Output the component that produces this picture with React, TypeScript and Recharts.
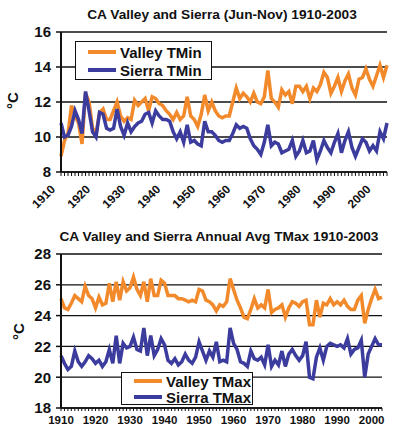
import { CartesianGrid, Legend, Line, LineChart, XAxis, YAxis } from "recharts";

const FONT = "'Liberation Sans', Arial, sans-serif";
const ORANGE = "#f28a2c";
const BLUE = "#3c3c9e";
const INK = "#111";

const years = Array.from({ length: 94 }, (_, i) => 1910 + i);

// Jun-Nov minimum temperatures, 1910-2003
const valleyTMin = [
  8.9, 9.8, 10.2, 11.8, 11.2, 10.8, 9.6, 12.5, 12.0, 10.5,
  10.2, 11.4, 11.6, 11.0, 11.0, 11.5, 12.0, 11.2, 10.9, 11.1,
  11.0, 12.1, 11.8, 12.0, 12.2, 11.5, 12.3, 12.2, 11.9, 11.8,
  11.5, 11.3, 11.0, 11.4, 11.0, 11.2, 12.3, 11.2, 11.0, 10.6,
  11.3, 12.4, 11.5, 12.0, 11.5, 11.2, 11.1, 11.2, 11.2, 12.0,
  12.8, 12.2, 12.5, 12.3, 12.0, 12.5, 12.0, 11.9, 12.3, 13.8,
  12.2, 12.0, 11.7, 12.7, 12.4, 12.6, 11.9, 12.9, 12.9, 12.6,
  12.9, 12.2, 12.8, 12.6, 13.0, 13.7, 13.4, 12.5, 12.9, 13.4,
  12.6, 13.2, 13.6, 12.8, 12.4, 13.3, 13.4, 13.9, 13.3, 12.9,
  13.5, 14.1, 13.4, 14.1,
];
const sierraTMin = [
  10.8, 10.0, 10.1, 10.6, 11.5, 11.0, 10.2, 12.6, 11.5, 10.3,
  10.0, 11.4, 11.3, 10.5, 10.4, 10.5, 11.6, 10.6, 10.1, 10.8,
  10.3, 10.6, 10.8, 10.9, 11.3, 11.4, 10.8, 11.5, 11.2, 11.0,
  11.0, 10.9, 10.3, 9.9, 10.3, 9.7, 10.7, 9.7, 9.8, 9.6,
  9.5, 10.9, 10.3, 10.3, 10.1, 9.8, 9.7, 9.8, 9.8, 10.2,
  10.7, 10.5, 10.6, 10.5, 9.9, 9.5, 9.3, 9.0, 9.7, 10.7,
  9.5, 9.7, 9.6, 9.1, 9.2, 9.3, 9.8, 8.9, 9.2, 9.8,
  9.1, 9.2, 9.8, 8.7, 9.2, 9.8, 9.4, 9.1, 9.7, 10.2,
  9.1, 9.8, 10.3, 9.4, 8.9, 9.4, 9.9, 9.7, 9.2, 9.5,
  9.2, 10.3, 9.9, 10.8,
];

// annual average maximum temperatures, 1910-2003
const valleyTMax = [
  25.1, 24.5, 24.4, 24.8, 25.3, 25.1, 24.9, 25.9, 25.3, 25.1,
  24.5, 25.2, 24.7, 24.8, 26.1, 24.9, 26.2, 25.0, 26.2, 25.6,
  25.8, 26.5, 25.7, 25.3, 26.2, 24.9, 26.4, 25.3, 25.3, 26.3,
  26.1, 25.3, 25.3, 25.3, 25.1, 25.1, 25.0, 24.9, 25.0, 24.9,
  25.7, 25.6, 25.0, 24.9, 24.7, 24.3, 24.7, 24.6, 24.9, 26.4,
  25.7, 25.0, 24.5, 23.9, 23.8, 24.4, 25.1, 24.5, 24.7, 24.5,
  25.7, 24.2, 24.4, 24.5, 24.7, 23.9, 24.5, 24.9, 24.8, 24.6,
  24.9, 25.0, 23.4, 23.4, 25.0, 23.9, 24.8, 24.7, 25.1, 24.7,
  24.9, 24.7, 25.0, 24.6, 24.4, 24.4, 25.0, 25.3, 23.5, 24.4,
  25.1, 25.7, 25.1, 25.2,
];
const sierraTMax = [
  21.4, 20.9, 20.5, 20.7, 21.7, 21.0, 20.7, 21.0, 21.4, 21.2,
  20.9, 21.1, 20.7, 21.0, 21.8, 20.9, 22.7, 20.9, 22.2, 21.9,
  22.0, 22.6, 21.8, 21.7, 23.2, 21.4, 22.7, 21.4, 21.8, 22.5,
  22.1, 21.1, 20.9, 21.2, 20.8, 21.0, 21.5, 21.1, 20.9, 21.3,
  22.3, 21.7, 21.1, 21.7, 21.3, 22.3, 21.0, 21.1, 21.0, 23.2,
  22.2, 21.8, 21.0, 20.9, 20.7, 21.7, 21.2, 21.1, 21.3, 20.8,
  22.1, 20.7, 21.1, 20.8, 21.7, 20.7, 21.5, 21.8, 21.4, 21.1,
  21.4, 22.3, 20.0, 19.9, 21.3, 21.9, 21.1, 22.0, 22.2, 22.1,
  22.0, 22.1, 21.9, 22.5, 21.5, 21.8, 21.9, 22.4, 20.0, 21.5,
  22.0, 22.5, 22.1, 22.1,
];

const minData = years.map((year, i) => ({
  year,
  valley: valleyTMin[i],
  sierra: sierraTMin[i],
}));
const maxData = years.map((year, i) => ({
  year,
  valley: valleyTMax[i],
  sierra: sierraTMax[i],
}));

const boldText = { fontFamily: FONT, fontWeight: 700, fill: INK };

function RotatedYearTick(props: any) {
  const { x, y, payload } = props;
  if (payload.value % 10 !== 0) return <g />;
  const tx = x - 5;
  const ty = y + 12;
  return (
    <text
      x={tx}
      y={ty}
      transform={`rotate(-45, ${tx}, ${ty})`}
      textAnchor="end"
      fontSize={12}
      style={boldText}
    >
      {payload.value}
    </text>
  );
}

function FlatYearTick(props: any) {
  const { x, y, payload } = props;
  if (payload.value % 10 !== 0) return <g />;
  return (
    <text x={x} y={y} dy={11} textAnchor="middle" fontSize={11.5} style={boldText}>
      {payload.value}
    </text>
  );
}

// valley first, like the original legend
const seriesOrder = ["valley", "sierra"];

function LegendBox(props: any) {
  const { payload, rowGap, padTop } = props;
  const rows = [...(payload || [])].sort(
    (a: any, b: any) =>
      seriesOrder.indexOf(a.dataKey) - seriesOrder.indexOf(b.dataKey)
  );
  return (
    <div
      style={{
        border: `1px solid ${INK}`,
        background: "#fff",
        paddingTop: padTop,
        paddingLeft: 12,
        boxSizing: "border-box",
        height: "100%",
      }}
    >
      {rows.map((entry: any) => (
        <div
          key={entry.value}
          style={{ display: "flex", alignItems: "center", height: rowGap }}
        >
          <span
            style={{
              display: "inline-block",
              width: 28,
              height: 4,
              background: entry.color,
              marginRight: 4,
            }}
          />
          <span
            style={{
              fontFamily: FONT,
              fontWeight: 700,
              fontSize: 15,
              color: INK,
              lineHeight: 1,
            }}
          >
            {entry.value}
          </span>
        </div>
      ))}
    </div>
  );
}

const titleStyle = {
  position: "absolute" as const,
  left: 0,
  width: 398,
  textAlign: "center" as const,
  fontFamily: FONT,
  fontWeight: 700,
  fontSize: 13.7,
  color: INK,
};

const unitStyle = {
  position: "absolute" as const,
  fontFamily: FONT,
  fontWeight: 700,
  fontSize: 15,
  color: INK,
  transform: "rotate(-90deg)",
  transformOrigin: "center",
};

export default function App() {
  return (
    <div
      style={{
        position: "absolute",
        left: 0,
        top: 0,
        width: 398,
        height: 438,
        background: "#fff",
      }}
    >
      <div style={{ ...titleStyle, left: 23, top: 7 }}>
        CA Valley and Sierra (Jun-Nov) 1910-2003
      </div>
      <div style={{ ...unitStyle, left: 4, top: 92 }}>°C</div>

      <div style={{ position: "absolute", left: 0, top: 0 }}>
        <LineChart
          width={398}
          height={215}
          data={minData}
          margin={{ top: 32, right: 11, left: 11, bottom: 0 }}
        >
          <CartesianGrid vertical={false} stroke={INK} strokeWidth={1.3} />
          <XAxis
            dataKey="year"
            type="number"
            domain={[1910, 2003]}
            ticks={years}
            interval={0}
            height={43}
            tick={<RotatedYearTick />}
            tickSize={4}
            tickMargin={2}
            tickLine={{ stroke: INK }}
            axisLine={{ stroke: INK, strokeWidth: 1.5 }}
          />
          <YAxis
            type="number"
            domain={[8, 16]}
            ticks={[8, 10, 12, 14, 16]}
            width={50}
            tick={{ ...boldText, fontSize: 15 }}
            tickSize={5}
            tickMargin={5}
            tickLine={{ stroke: INK, strokeWidth: 1.5 }}
            axisLine={{ stroke: INK, strokeWidth: 2 }}
          />
          <Legend
            layout="vertical"
            align="center"
            verticalAlign="middle"
            wrapperStyle={{ left: 75, top: 41, width: 137, height: 39 }}
            content={(p: any) => <LegendBox {...p} rowGap={18} padTop={1} />}
          />
          <Line
            dataKey="valley"
            name="Valley TMin"
            stroke={ORANGE}
            strokeWidth={3.5}
            dot={false}
            isAnimationActive={false}
          />
          <Line
            dataKey="sierra"
            name="Sierra TMin"
            stroke={BLUE}
            strokeWidth={3.5}
            dot={false}
            isAnimationActive={false}
          />
        </LineChart>
      </div>

      <div style={{ ...titleStyle, left: 20, top: 229 }}>
        CA Valley and Sierra Annual Avg TMax 1910-2003
      </div>
      <div style={{ ...unitStyle, left: 10, top: 323 }}>°C</div>

      <div style={{ position: "absolute", left: 0, top: 220 }}>
        <LineChart
          width={398}
          height={218}
          data={maxData}
          margin={{ top: 34, right: 16, left: 11, bottom: 0 }}
        >
          <CartesianGrid vertical={false} stroke={INK} strokeWidth={1.3} />
          <XAxis
            dataKey="year"
            type="number"
            domain={[1910, 2003]}
            ticks={years}
            interval={0}
            height={30}
            tick={<FlatYearTick />}
            tickSize={3}
            tickMargin={2}
            tickLine={{ stroke: INK }}
            axisLine={{ stroke: INK, strokeWidth: 1.5 }}
          />
          <YAxis
            type="number"
            domain={[18, 28]}
            ticks={[18, 20, 22, 24, 26, 28]}
            width={50}
            tick={{ ...boldText, fontSize: 15 }}
            tickSize={5}
            tickMargin={5}
            tickLine={{ stroke: INK, strokeWidth: 1.5 }}
            axisLine={{ stroke: INK, strokeWidth: 2 }}
          />
          <Legend
            layout="vertical"
            align="center"
            verticalAlign="middle"
            wrapperStyle={{ left: 121, top: 152, width: 132, height: 33 }}
            content={(p: any) => <LegendBox {...p} rowGap={16} padTop={0} />}
          />
          <Line
            dataKey="valley"
            name="Valley TMax"
            stroke={ORANGE}
            strokeWidth={3.5}
            dot={false}
            isAnimationActive={false}
          />
          <Line
            dataKey="sierra"
            name="Sierra TMax"
            stroke={BLUE}
            strokeWidth={3.5}
            dot={false}
            isAnimationActive={false}
          />
        </LineChart>
      </div>
    </div>
  );
}
